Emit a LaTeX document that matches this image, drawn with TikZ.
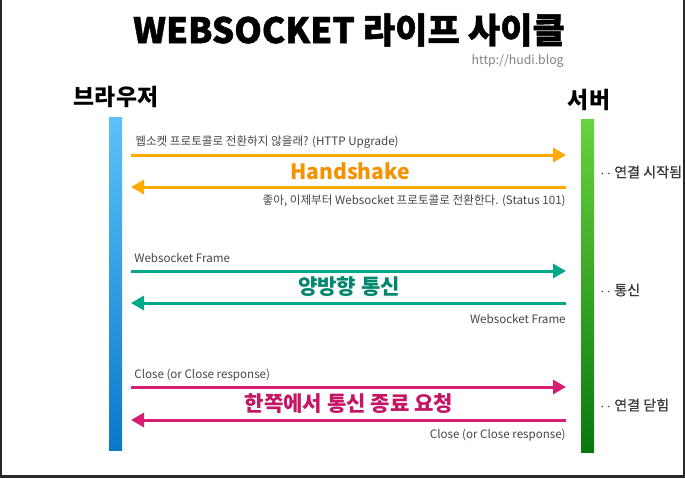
\documentclass[tikz,border=0pt]{standalone}
\usepackage{fontspec}
\setmainfont{Noto Sans CJK KR}
\newfontfamily\titlefont{Noto Sans CJK KR}[BoldFeatures={FakeBold=1.2}]
\newfontfamily\notefont{Noto Sans CJK KR}[FakeBold=0.5]
\usetikzlibrary{arrows.meta,positioning}
\definecolor{HsOrange}{RGB}{255,170,0}
\definecolor{HsText}{RGB}{245,146,0}
\definecolor{WsTeal}{RGB}{0,168,138}
\definecolor{WsText}{RGB}{0,135,110}
\definecolor{CloseMagenta}{RGB}{214,30,115}
\definecolor{CloseText}{RGB}{196,22,100}
\definecolor{LabelGray}{RGB}{70,70,70}
\definecolor{NoteGray}{RGB}{55,55,55}
\definecolor{LinkGray}{RGB}{130,130,130}
\definecolor{BrowserTop}{RGB}{92,194,250}
\definecolor{BrowserBot}{RGB}{10,120,200}
\definecolor{ServerTop}{RGB}{102,212,60}
\definecolor{ServerBot}{RGB}{10,120,15}
\definecolor{FrameDark}{RGB}{40,40,40}

\begin{document}
\begin{tikzpicture}[
    x=0.02cm, y=-0.02cm,
    msg/.style={font=\fontsize{6.6}{8}\selectfont, text=LabelGray, inner sep=0pt},
    note/.style={font=\notefont\fontsize{8}{9}\selectfont, text=NoteGray, anchor=west, inner sep=0pt},
    phase/.style={font=\fontsize{12}{14}\selectfont\bfseries, inner sep=0pt},
    actor/.style={font=\fontsize{13}{15}\selectfont\bfseries, inner sep=0pt},
    lifeline/.style={minimum width=0.26cm, minimum height=6.68cm, inner sep=0pt, draw=none},
    arr/.style={-{Triangle[length=2.6mm, width=2.8mm]}, line width=1.7pt}
]
    % frame
    \fill[FrameDark] (0,0) rectangle (685,478);
    \fill[white] (2,0) rectangle (683,475);

    % title
    \node[font=\titlefont\fontsize{20}{24}\selectfont\bfseries, inner sep=0pt] (title) at (349,30) {WEBSOCKET 라이프 사이클};
    \node[font=\fontsize{7}{8}\selectfont, text=LinkGray, anchor=east, inner sep=0pt] (blog) at (564,61) {http://hudi.blog};

    % lifelines
    \node[lifeline, top color=BrowserTop, bottom color=BrowserBot] (browser) at (115.5,284) {};
    \node[lifeline, top color=ServerTop, bottom color=ServerBot] (server) at (587.5,286) {};
    \node[actor] (browsername) at (116,97) {브라우저};
    \node[actor] (servername) at (589,100) {서버};

    % message ends
    \coordinate (b1) at (131,155); \coordinate (s1) at (566,155);
    \coordinate (b2) at (131,187); \coordinate (s2) at (566,187);
    \coordinate (b3) at (131,271); \coordinate (s3) at (566,271);
    \coordinate (b4) at (131,303); \coordinate (s4) at (566,303);
    \coordinate (b5) at (131,387); \coordinate (s5) at (566,387);
    \coordinate (b6) at (131,420); \coordinate (s6) at (566,420);

    % handshake
    \draw[arr, HsOrange] (b1) -- (s1);
    \draw[arr, HsOrange] (s2) -- (b2);
    \node[msg, anchor=west] (upgrade) at (135,142) {웹소켓 프로토콜로 전환하지 않을래? (HTTP Upgrade)};
    \node[msg, anchor=east] (status) at (566,201) {좋아, 이제부터 Websocket 프로토콜로 전환한다. (Status 101)};
    \node[phase, text=HsText] (handshake) at (350,171) {Handshake};
    \node[note] (opened) at (600,172) {$\cdot\,\cdot$ 연결 시작됨};

    % frames
    \draw[arr, WsTeal] (b3) -- (s3);
    \draw[arr, WsTeal] (s4) -- (b4);
    \node[msg, anchor=west] (frameup) at (134,258) {Websocket Frame};
    \node[msg, anchor=east] (framedown) at (566,319) {Websocket Frame};
    \node[phase, text=WsText] (duplex) at (349,287) {양방향 통신};
    \node[note] (talking) at (600,290) {$\cdot\,\cdot$ 통신};

    % close
    \draw[arr, CloseMagenta] (b5) -- (s5);
    \draw[arr, CloseMagenta] (s6) -- (b6);
    \node[msg, anchor=west] (closeup) at (134,375) {Close (or Close response)};
    \node[msg, anchor=east] (closedown) at (566,435) {Close (or Close response)};
    \node[phase, text=CloseText] (closereq) at (349,404) {한쪽에서 통신 종료 요청};
    \node[note] (closed) at (600,405) {$\cdot\,\cdot$ 연결 닫힘};
\end{tikzpicture}
\end{document}
